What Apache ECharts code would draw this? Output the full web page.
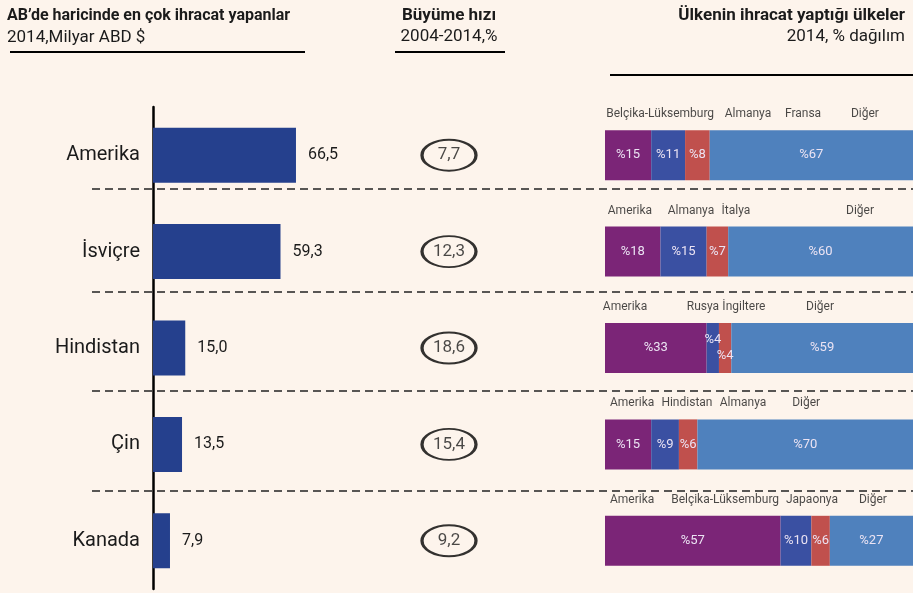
<!DOCTYPE html>
<html>
<head>
<meta charset="utf-8">
<script src="https://cdn.jsdelivr.net/npm/echarts@6/dist/echarts.min.js"></script>
<style>
  html, body { margin: 0; padding: 0; background: #fdf4ec; }
  #chart { width: 913px; height: 593px; }
</style>
</head>
<body>
<div id="chart"></div>
<script>
  // ülkeler ve AB dışı ihracat (milyar ABD $)
  const countries = ['Amerika', 'İsviçre', 'Hindistan', 'Çin', 'Kanada'];
  const exportValues = [66.5, 59.3, 15.0, 13.5, 7.9];
  // büyüme hızı 2004-2014, %
  const growth = [7.7, 12.3, 18.6, 15.4, 9.2];
  // ihracat yapılan ülkeler, % dağılım
  const partners = [
    ['Belçika-Lüksemburg', 'Almanya', 'Fransa', 'Diğer'],
    ['Amerika', 'Almanya', 'İtalya', 'Diğer'],
    ['Amerika', 'Rusya', 'İngiltere', 'Diğer'],
    ['Amerika', 'Hindistan', 'Almanya', 'Diğer'],
    ['Amerika', 'Belçika-Lüksemburg', 'Japaonya', 'Diğer']
  ];
  const shares = [
    [15, 11, 8, 67],
    [18, 15, 7, 60],
    [33, 4, 4, 59],
    [15, 9, 6, 70],
    [57, 10, 6, 27]
  ];

  // layout: where the partner names sit above each stacked bar (axis units)
  const nameSpots = [
    [17.9, 46.4, 64.3, 84.4],
    [8.1, 27.9, 42.5, 82.8],
    [6.5, 31.8, 45.1, 69.8],
    [8.8, 26.6, 44.8, 65.3],
    [8.8, 39.0, 67.2, 87.0]
  ];
  const segColors = ['#7b2577', '#3a50a2', '#c0504d', '#4f81bd'];
  const font = 'Roboto, "Liberation Sans", sans-serif';
  const ink = '#1b1b1b';

  function comma(v) { return v.toFixed(1).replace('.', ','); }

  let chart = echarts.init(document.getElementById('chart'));

  // stacked bars on the right
  let stackSeries = [0, 1, 2, 3].map(function (k) {
    return {
      type: 'bar',
      xAxisIndex: 2,
      yAxisIndex: 2,
      stack: 'pay',
      barWidth: 50,
      itemStyle: { color: segColors[k] },
      data: shares.map(function (row) {
        let item = { value: row[k] };
        if (row[k] < 5) {
          item.label = { offset: [0, k === 1 ? -8 : 8] };
        }
        return item;
      }),
      label: {
        show: true,
        position: 'inside',
        color: '#ebe3f3',
        fontFamily: font,
        fontSize: 13,
        formatter: function (p) { return '%' + p.value; }
      },
      silent: true
    };
  });

  let nameData = [];
  partners.forEach(function (row, r) {
    row.forEach(function (name, j) {
      nameData.push({ value: [nameSpots[r][j], r], name: name });
    });
  });

  let headStyle = { fontFamily: font, fontSize: 16, fontWeight: 'bold', color: ink };
  let bigHead = { fontFamily: font, fontSize: 17, fontWeight: 'bold', color: ink };
  let subStyle = { fontFamily: font, fontSize: 17, color: ink };

  chart.setOption({
    backgroundColor: '#fdf4ec',
    animation: false,
    title: [
      {
        text: 'AB’de haricinde en çok ihracat yapanlar',
        subtext: '2014,Milyar ABD $',
        left: 2, top: 3,
        itemGap: 5,
        textStyle: headStyle,
        subtextStyle: subStyle
      },
      {
        text: 'Büyüme hızı',
        subtext: '2004-2014,%',
        left: 444, top: 2,
        textAlign: 'center',
        itemGap: 4,
        textStyle: bigHead,
        subtextStyle: subStyle
      },
      {
        text: 'Ülkenin ihracat yaptığı ülkeler',
        subtext: '2014, % dağılım',
        left: 900, top: 2,
        textAlign: 'right',
        itemGap: 4,
        textStyle: bigHead,
        subtextStyle: subStyle
      }
    ],
    grid: [
      { left: 153, width: 215, top: 107, bottom: 4 },
      { left: 420, width: 58, top: 107, bottom: 4 },
      { left: 605, right: 0, top: 107, bottom: 4 }
    ],
    xAxis: [
      { gridIndex: 0, type: 'value', min: 0, max: 100, show: false },
      { gridIndex: 1, type: 'category', data: ['g'], show: false },
      { gridIndex: 2, type: 'value', min: 0, max: 100, show: false }
    ],
    yAxis: [
      {
        gridIndex: 0, type: 'category', inverse: true, data: countries,
        axisLine: { lineStyle: { color: '#000', width: 2.5 } },
        axisTick: { show: false },
        axisLabel: { fontFamily: font, fontSize: 20, color: ink, margin: 13 }
      },
      { gridIndex: 1, type: 'category', inverse: true, data: countries, show: false },
      { gridIndex: 2, type: 'category', inverse: true, data: countries, show: false }
    ],
    series: [
      {
        type: 'bar',
        xAxisIndex: 0,
        yAxisIndex: 0,
        barWidth: 55,
        itemStyle: { color: '#25408d' },
        data: exportValues,
        label: {
          show: true,
          position: 'right',
          distance: 12,
          fontFamily: font,
          fontSize: 16,
          color: ink,
          formatter: function (p) { return comma(p.value); }
        },
        silent: true
      },
      {
        type: 'scatter',
        xAxisIndex: 1,
        yAxisIndex: 1,
        symbol: 'circle',
        symbolSize: [54, 31],
        itemStyle: { color: 'rgba(0,0,0,0)', borderColor: '#000', borderWidth: 2.5 },
        data: growth.map(function (g, i) { return [0, i, g]; }),
        label: {
          show: true,
          position: 'inside',
          fontFamily: font,
          fontSize: 17,
          color: ink,
          formatter: function (p) { return comma(p.value[2]); }
        },
        silent: true
      }
    ].concat(stackSeries).concat([
      {
        type: 'scatter',
        xAxisIndex: 2,
        yAxisIndex: 2,
        symbolSize: 0,
        data: nameData,
        label: {
          show: true,
          position: 'inside',
          offset: [0, -41],
          fontFamily: font,
          fontSize: 12,
          color: ink,
          formatter: function (p) { return p.name; }
        },
        silent: true,
        z: 5
      }
    ]),
    graphic: [
      { type: 'line', shape: { x1: 10, y1: 52, x2: 305, y2: 52 }, style: { stroke: '#000', lineWidth: 2 } },
      { type: 'line', shape: { x1: 395, y1: 52, x2: 505, y2: 52 }, style: { stroke: '#000', lineWidth: 2 } },
      { type: 'line', shape: { x1: 610, y1: 75, x2: 913, y2: 75 }, style: { stroke: '#000', lineWidth: 2 } }
    ].concat([189, 292, 391, 491].map(function (y) {
      return {
        type: 'line',
        shape: { x1: 92, y1: y, x2: 913, y2: y },
        style: { stroke: '#222', lineWidth: 1.5, lineDash: [8, 5] },
        z: 1
      };
    }))
  });
</script>
</body>
</html>
